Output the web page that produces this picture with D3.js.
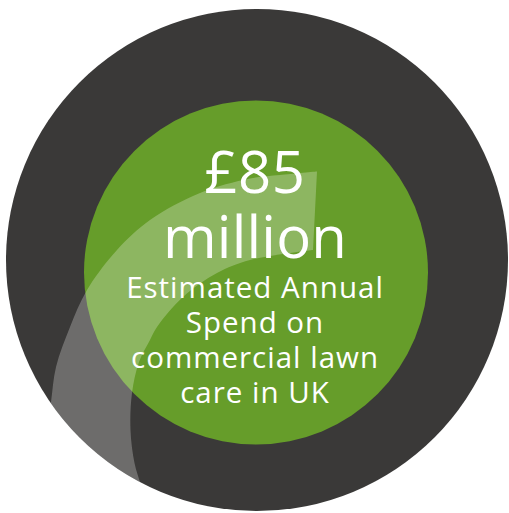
<!DOCTYPE html>
<html>
<head>
<meta charset="utf-8">
<script src="https://cdn.jsdelivr.net/npm/d3@7"></script>
<style>
  html, body { margin: 0; padding: 0; background: #ffffff; }
  svg { display: block; }
</style>
</head>
<body>
<svg id="chart" width="509" height="513"></svg>
<script>
// ---- data ----
const headlineValue = ["£85"];
const headlineUnit = ["million"];
const descriptionLines = ["Estimated Annual", "Spend on", "commercial lawn", "care in UK"];

// ---- drawing ----
const svg = d3.select("#chart");

const outerC = { x: 257, y: 260, r: 251 };
const innerC = { x: 256, y: 272.5, r: 172 };

svg.append("defs").append("clipPath").attr("id", "clipOuter")
  .append("circle").attr("cx", outerC.x).attr("cy", outerC.y).attr("r", outerC.r);

// outer dark disc
svg.append("circle")
  .attr("cx", outerC.x).attr("cy", outerC.y).attr("r", outerC.r)
  .attr("fill", "#3a3938");

// inner green disc
svg.append("circle")
  .attr("cx", innerC.x).attr("cy", innerC.y).attr("r", innerC.r)
  .attr("fill", "#669d2a");

// translucent curved arrow band (decoration)
const outerEdge = [[317,171.5],[280,175],[250,178.5],[200,193],[150,220],[117,250],[87,290],[70,327],[56,367],[51,402],[45,445],[40,500]];
const innerEdge = [[170,540],[146,500],[141,485],[134.5,463],[130.5,430],[132,393],[139,362],[150,340],[157,327],[183,297],[217,273],[250,260],[313,250]];
const lineGen = d3.line().curve(d3.curveCatmullRom.alpha(0.5));
const pathD = lineGen(outerEdge) + "L" + lineGen(innerEdge).slice(1) + "Z";
svg.append("path")
  .attr("d", pathD)
  .attr("clip-path", "url(#clipOuter)")
  .attr("fill", "#ffffff")
  .attr("fill-opacity", 0.26);

// text
const font = "'Open Sans', 'Noto Sans', sans-serif";
const cx = 255;
const bigY = d3.scaleLinear().domain([0, 1]).range([193, 258]);
svg.append("text").attr("x", cx).attr("y", bigY(0))
  .attr("text-anchor", "middle").attr("font-family", font)
  .attr("font-size", 58).attr("letter-spacing", 0.6)
  .attr("fill", "#ffffff").text(headlineValue[0]);
svg.append("text").attr("x", cx).attr("y", bigY(1))
  .attr("text-anchor", "middle").attr("font-family", font)
  .attr("font-size", 58).attr("letter-spacing", 0.2)
  .attr("fill", "#ffffff").text(headlineUnit[0]);

const smallY = d3.scaleLinear().domain([0, 3]).range([298, 402.5]);
svg.selectAll("text.desc").data(descriptionLines).enter().append("text")
  .attr("class", "desc")
  .attr("x", cx).attr("y", (d, i) => smallY(i))
  .attr("text-anchor", "middle").attr("font-family", font)
  .attr("font-size", 29.5).attr("letter-spacing", 1)
  .attr("fill", "#ffffff").text(d => d);
</script>
</body>
</html>
